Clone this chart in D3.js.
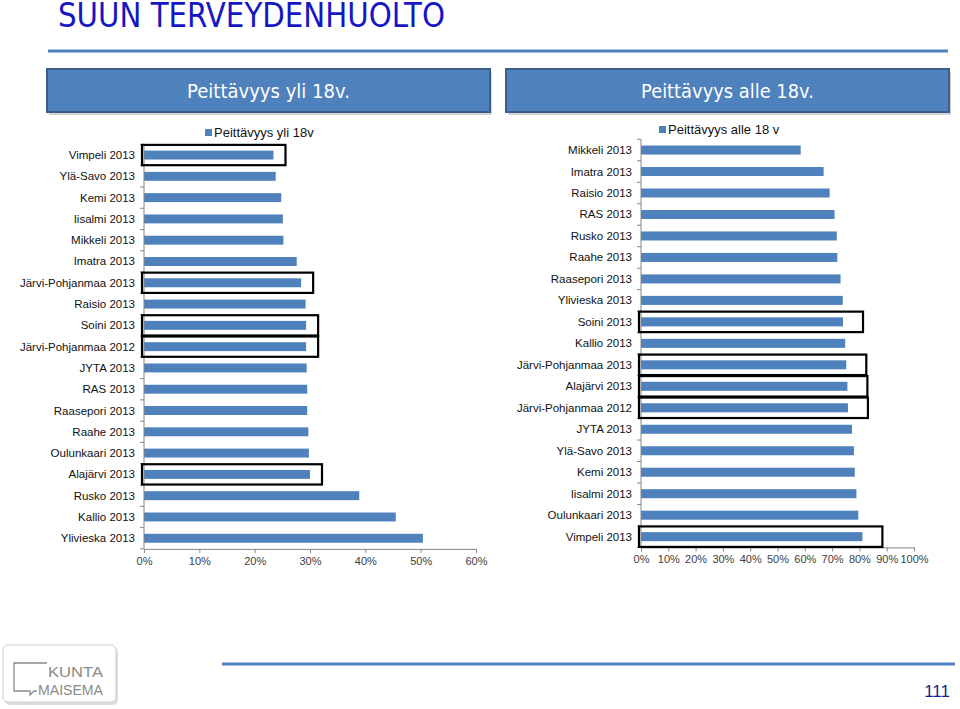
<!DOCTYPE html>
<html><head><meta charset="utf-8">
<script src="https://cdn.jsdelivr.net/npm/d3@7"></script>
<style>
html,body{margin:0;padding:0;background:#fff;}
svg{display:block;}
text{font-family:"Liberation Sans",Arial,sans-serif;}
</style></head>
<body>
<svg id="c" width="960" height="709"></svg>
<script>
// ---- data ----
const titleText = "SUUN TERVEYDENHUOLTO";
const headerLeft = "Peittävyys yli 18v.";
const headerRight = "Peittävyys alle 18v.";
const pageNumber = "111";

const leftSeriesName = "Peittävyys yli 18v";
const leftCategories = ["Vimpeli 2013","Ylä-Savo 2013","Kemi 2013","Iisalmi 2013","Mikkeli 2013","Imatra 2013","Järvi-Pohjanmaa 2013","Raisio 2013","Soini 2013","Järvi-Pohjanmaa 2012","JYTA 2013","RAS 2013","Raasepori 2013","Raahe 2013","Oulunkaari 2013","Alajärvi 2013","Rusko 2013","Kallio 2013","Ylivieska 2013"];
const leftValues = [0.234,0.238,0.248,0.251,0.252,0.276,0.284,0.292,0.293,0.293,0.294,0.295,0.295,0.297,0.298,0.300,0.389,0.455,0.504];
const leftTicks = [0,0.1,0.2,0.3,0.4,0.5,0.6];
const leftHighlights = ["Vimpeli 2013","Järvi-Pohjanmaa 2013","Soini 2013","Järvi-Pohjanmaa 2012","Alajärvi 2013"];

const rightSeriesName = "Peittävyys alle 18 v";
const rightCategories = ["Mikkeli 2013","Imatra 2013","Raisio 2013","RAS 2013","Rusko 2013","Raahe 2013","Raasepori 2013","Ylivieska 2013","Soini 2013","Kallio 2013","Järvi-Pohjanmaa 2013","Alajärvi 2013","Järvi-Pohjanmaa 2012","JYTA 2013","Ylä-Savo 2013","Kemi 2013","Iisalmi 2013","Oulunkaari 2013","Vimpeli 2013"];
const rightValues = [0.585,0.669,0.691,0.709,0.717,0.719,0.731,0.739,0.740,0.748,0.752,0.756,0.758,0.773,0.780,0.783,0.789,0.796,0.811];
const rightTicks = [0,0.1,0.2,0.3,0.4,0.5,0.6,0.7,0.8,0.9,1.0];
const rightHighlights = ["Soini 2013","Järvi-Pohjanmaa 2013","Alajärvi 2013","Järvi-Pohjanmaa 2012","Vimpeli 2013"];

// ---- drawing ----
const svg = d3.select("#c");
const BLUE = "#4f81bd";

// title
svg.append("text").attr("x",58).attr("y",27)
  .attr("textLength",387).attr("lengthAdjust","spacingAndGlyphs")
  .style("font-family","'DejaVu Sans',sans-serif")
  .style("font-size","34px").style("fill","#1616c4").text(titleText);
svg.append("line").attr("x1",48).attr("x2",948).attr("y1",51).attr("y2",51)
  .attr("stroke","#4f81bd").attr("stroke-width",3);

// header boxes
function header(x,y,w,h,txt,tl){
  svg.append("rect").attr("x",x+2).attr("y",y+3).attr("width",w).attr("height",h).attr("fill","#b8b8b8").attr("opacity",0.6);
  svg.append("rect").attr("x",x).attr("y",y).attr("width",w).attr("height",h)
    .attr("fill","#4f81bd").attr("stroke","#3a5f8b").attr("stroke-width",2);
  svg.append("text").attr("x",x+w/2).attr("y",y+h/2+7).attr("text-anchor","middle")
    .attr("textLength",tl).attr("lengthAdjust","spacingAndGlyphs")
    .style("font-family","'DejaVu Sans',sans-serif")
    .style("font-size","19px").style("fill","#fff").text(txt);
}
header(47,69,443,43,headerLeft,163);
header(506,69,443,43,headerRight,173);

function chart(cfg){
  const x = d3.scaleLinear().domain(cfg.domain).range([cfg.x0,cfg.x1]);
  const y = d3.scaleBand().domain(cfg.cats).range([cfg.y0,cfg.y1]).paddingInner(0.58).paddingOuter(0.29);
  const step = y.step();
  const g = svg.append("g");
  g.selectAll("rect.bar").data(cfg.cats).join("rect").attr("class","bar")
    .attr("x",x(0)).attr("y",d=>y(d))
    .attr("width",(d,i)=>x(cfg.vals[i])-x(0)).attr("height",y.bandwidth())
    .attr("fill",BLUE);
  g.append("line").attr("x1",x(0)).attr("x2",x(0)).attr("y1",cfg.y0).attr("y2",cfg.y1).attr("stroke","#868686");
  d3.range(cfg.cats.length+1).forEach(i=>{
    g.append("line").attr("x1",x(0)-4).attr("x2",x(0)).attr("y1",cfg.y0+i*step).attr("y2",cfg.y0+i*step).attr("stroke","#868686");
  });
  g.selectAll("text.cat").data(cfg.cats).join("text").attr("class","cat")
    .attr("x",x(0)-9).attr("y",d=>y(d)+y.bandwidth()/2+4)
    .attr("text-anchor","end").style("font-size","11.5px").style("fill","#111").text(d=>d);
  const ax = g.append("g").attr("transform",`translate(0,${cfg.y1})`)
    .call(d3.axisBottom(x).tickValues(cfg.ticks).tickFormat(d3.format(".0%")).tickSize(4).tickSizeOuter(0));
  ax.select(".domain").attr("stroke","#868686");
  ax.selectAll(".tick line").attr("stroke","#868686");
  ax.selectAll(".tick text").attr("y",8).style("font-family","'Liberation Sans',Arial,sans-serif")
    .style("font-size","11px").style("fill","#404040");
  cfg.hl.forEach(name=>{
    const i = cfg.cats.indexOf(name);
    g.append("rect").attr("x",x(0)-2).attr("y",cfg.y0+i*step+0.5)
      .attr("width",x(cfg.vals[i])-x(0)+2+cfg.pad).attr("height",step-1)
      .attr("fill","none").attr("stroke","#000").attr("stroke-width",2.2);
  });
  g.append("rect").attr("x",cfg.lx).attr("y",cfg.ly-6).attr("width",7).attr("height",7).attr("fill",BLUE);
  g.append("text").attr("x",cfg.lx+9).attr("y",cfg.ly+2).style("font-size","13px").style("fill","#111").text(cfg.name);
}

chart({domain:[0,0.6],x0:144,x1:476,cats:leftCategories,vals:leftValues,ticks:leftTicks,
  y0:144.4,y1:548.9,hl:leftHighlights,pad:12,lx:205,ly:135,name:leftSeriesName});
chart({domain:[0,1],x0:641,x1:914,cats:rightCategories,vals:rightValues,ticks:rightTicks,
  y0:139.3,y1:547.4,hl:rightHighlights,pad:20,lx:659,ly:132,name:rightSeriesName});

// footer
svg.append("line").attr("x1",222).attr("x2",955).attr("y1",664).attr("y2",664).attr("stroke","#4f81bd").attr("stroke-width",3);
svg.append("text").attr("x",950).attr("y",697).attr("text-anchor","end")
  .style("font-size","17px").style("fill","#1c1c8c").text(pageNumber);

// logo
const lg = svg.append("g");
lg.append("rect").attr("x",5).attr("y",647).attr("width",113).attr("height",58).attr("rx",5).attr("fill","#bbb").attr("opacity",0.5);
lg.append("rect").attr("x",3).attr("y",645).attr("width",113).attr("height",57).attr("rx",5).attr("fill","#fff").attr("stroke","#d0d0d0");
lg.append("path").attr("d","M47,663 L14,663 L14,691 L30,691 L30,695 L34,691 L37,691")
  .attr("fill","none").attr("stroke","#8a8a8a").attr("stroke-width",1.3);
lg.append("text").attr("x",48).attr("y",677).attr("textLength",55).attr("lengthAdjust","spacingAndGlyphs")
  .style("font-size","14px").style("fill","#8a8a8a").text("KUNTA");
lg.append("text").attr("x",38).attr("y",695).attr("textLength",65).attr("lengthAdjust","spacingAndGlyphs")
  .style("font-size","14px").style("fill","#8a8a8a").text("MAISEMA");
</script>
</body></html>
